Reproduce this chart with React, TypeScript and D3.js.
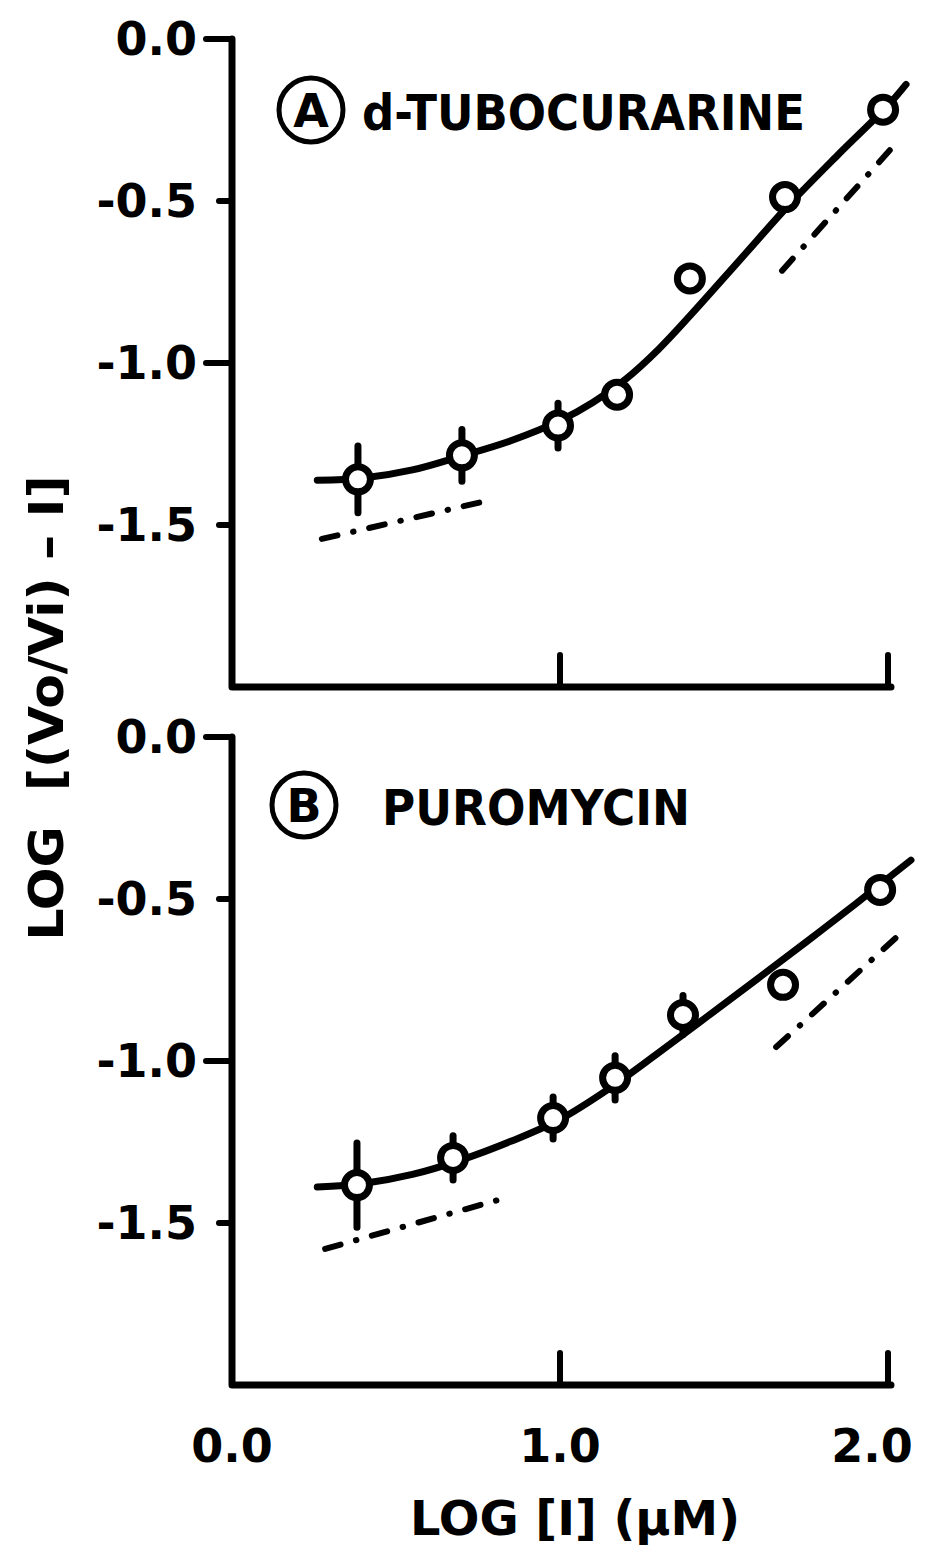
import React from 'react';
import * as d3 from 'd3';

// ---- axis ticks ----
const xTickValues = [0, 1, 2];
const xTickLabels = ['0.0', '1.0', '2.0'];
const yTickValues = [0, -0.5, -1.0, -1.5];
const yTickLabels = ['0.0', '-0.5', '-1.0', '-1.5'];

// ---- Panel A: d-TUBOCURARINE ----
const aLogI = [0.384, 0.701, 0.994, 1.174, 1.396, 1.686, 1.985];
const aLogRatio = [-1.359, -1.285, -1.193, -1.098, -0.739, -0.488, -0.218];
const aErr = [0.103, 0.08, 0.069, 0, 0, 0, 0];
const aFitX = [0.26, 0.4, 0.55, 0.7, 0.85, 1.0, 1.1, 1.2, 1.3, 1.4, 1.55, 1.7, 1.85, 2.0, 2.055];
const aFitY = [-1.362, -1.355, -1.33, -1.287, -1.24, -1.178, -1.122, -1.05, -0.958, -0.85, -0.68, -0.51, -0.355, -0.205, -0.14];
const aLowX = [0.274, 0.787];
const aLowY = [-1.543, -1.423];
const aHighX = [1.677, 2.027];
const aHighY = [-0.715, -0.319];

// ---- Panel B: PUROMYCIN ----
const bLogI = [0.381, 0.674, 0.979, 1.168, 1.375, 1.68, 1.976];
const bLogRatio = [-1.383, -1.299, -1.176, -1.052, -0.858, -0.765, -0.472];
const bErr = [0.13, 0.068, 0.065, 0.068, 0.06, 0, 0];
const bFitX = [0.26, 0.4, 0.55, 0.7, 0.85, 1.0, 1.15, 1.3, 1.45, 1.6, 1.75, 1.9, 2.07];
const bFitY = [-1.389, -1.378, -1.35, -1.305, -1.248, -1.18, -1.085, -0.975, -0.862, -0.748, -0.633, -0.516, -0.38];
const bLowX = [0.284, 0.811];
const bLowY = [-1.58, -1.429];
const bHighX = [1.659, 2.027];
const bHighY = [-0.957, -0.617];

const FONT = "'DejaVu Sans', sans-serif";

type PanelDef = {
  letter: string;
  name: string;
  top: number;
  bottom: number;
  cx: number;
  cy: number;
  nameX: number;
  nameLen: number;
  xs: number[];
  ys: number[];
  err: number[];
  fitX: number[];
  fitY: number[];
  lowX: number[];
  lowY: number[];
  highX: number[];
  highY: number[];
  showXLabels: boolean;
};

const panels: PanelDef[] = [
  {
    letter: 'A', name: 'd-TUBOCURARINE', top: 39, bottom: 687, cx: 311, cy: 110, nameX: 362, nameLen: 443,
    xs: aLogI, ys: aLogRatio, err: aErr, fitX: aFitX, fitY: aFitY,
    lowX: aLowX, lowY: aLowY, highX: aHighX, highY: aHighY, showXLabels: false,
  },
  {
    letter: 'B', name: 'PUROMYCIN', top: 737, bottom: 1385, cx: 304, cy: 805, nameX: 382, nameLen: 308,
    xs: bLogI, ys: bLogRatio, err: bErr, fitX: bFitX, fitY: bFitY,
    lowX: bLowX, lowY: bLowY, highX: bHighX, highY: bHighY, showXLabels: true,
  },
];

export default function App() {
  const W = 926;
  const H = 1552;
  const x = d3.scaleLinear().domain([0, 2]).range([232, 888]);
  const SW = 6;

  return (
    <svg width={W} height={H} style={{ position: 'absolute', left: 0, top: 0, background: '#fff' }}>
      <rect x={0} y={0} width={W} height={H} fill="#fff" />
      {panels.map((p) => {
        const y = d3.scaleLinear().domain([-2, 0]).range([p.bottom, p.top]);
        const line = d3
          .line<number>()
          .x((_, i) => x(p.fitX[i]))
          .y((d) => y(d))
          .curve(d3.curveCatmullRom.alpha(0.5));
        const seg = (xs: number[], ys: number[]) =>
          d3.line<number>().x((_, i) => x(xs[i])).y((d) => y(d))(ys) || '';
        const x0 = x(0);
        const x2 = x(2);
        return (
          <g key={p.letter}>
            {/* axes */}
            <path
              d={`M${x0},${y(0)} L${x0},${p.bottom} L${x2 + 3},${p.bottom}`}
              fill="none"
              stroke="#000"
              strokeWidth={SW + 1}
              strokeLinejoin="round"
              strokeLinecap="round"
            />
            {yTickValues.map((v, i) => {
              const major = Math.abs(v % 1) < 1e-9;
              const len = major ? 26 : 13;
              return (
                <g key={'yt' + i}>
                  <line x1={x0 - len} x2={x0} y1={y(v)} y2={y(v)} stroke="#000" strokeWidth={SW} strokeLinecap="round" />
                  <text
                    x={197}
                    y={y(v) + 16}
                    textAnchor="end"
                    fontFamily={FONT}
                    fontWeight="bold"
                    fontSize={46}
                  >
                    {yTickLabels[i]}
                  </text>
                </g>
              );
            })}
            {xTickValues.filter((v) => v > 0).map((v, i) => (
              <line key={'xt' + i} x1={x(v)} x2={x(v)} y1={p.bottom} y2={p.bottom - 32} stroke="#000" strokeWidth={SW} strokeLinecap="round" />
            ))}
            {p.showXLabels &&
              xTickValues.map((v, i) => (
                <text
                  key={'xl' + i}
                  x={Math.min(x(v), 872)}
                  y={p.bottom + 77}
                  textAnchor="middle"
                  fontFamily={FONT}
                  fontWeight="bold"
                  fontSize={46}
                >
                  {xTickLabels[i]}
                </text>
              ))}

            {/* panel label */}
            <circle cx={p.cx} cy={p.cy} r={32} fill="none" stroke="#000" strokeWidth={5} />
            <text x={p.cx} y={p.cy + 17} textAnchor="middle" fontFamily={FONT} fontWeight="bold" fontSize={46}>
              {p.letter}
            </text>
            <text
              x={p.nameX}
              y={p.cy + 20}
              fontFamily={FONT}
              fontWeight="bold"
              fontSize={50}
              textLength={p.nameLen}
              lengthAdjust="spacingAndGlyphs"
            >
              {p.name}
            </text>

            {/* dash-dot reference lines */}
            {[seg(p.lowX, p.lowY), seg(p.highX, p.highY)].map((d, i) => (
              <path
                key={'dd' + i}
                d={d}
                fill="none"
                stroke="#000"
                strokeWidth={6}
                strokeLinecap="round"
                strokeDasharray="16 16 0.5 16"
              />
            ))}

            {/* error bars */}
            {p.xs.map((xv, i) =>
              p.err[i] > 0 ? (
                <line
                  key={'eb' + i}
                  x1={x(xv)}
                  x2={x(xv)}
                  y1={y(p.ys[i] + p.err[i])}
                  y2={y(p.ys[i] - p.err[i])}
                  stroke="#000"
                  strokeWidth={7}
                  strokeLinecap="round"
                />
              ) : null
            )}

            {/* fitted curve */}
            <path d={line(p.fitY) || ''} fill="none" stroke="#000" strokeWidth={7} strokeLinecap="round" />

            {/* data points */}
            {p.xs.map((xv, i) => (
              <circle key={'pt' + i} cx={x(xv)} cy={y(p.ys[i])} r={12.5} fill="#fff" stroke="#000" strokeWidth={7} />
            ))}
          </g>
        );
      })}

      {/* axis titles */}
      <text
        x={575}
        y={1535}
        textAnchor="middle"
        fontFamily={FONT}
        fontWeight="bold"
        fontSize={48}
        textLength={330}
        lengthAdjust="spacingAndGlyphs"
      >
        LOG [I] (µM)
      </text>
      <text
        transform="translate(63,708) rotate(-90)"
        textAnchor="middle"
        fontFamily={FONT}
        fontWeight="bold"
        fontSize={48}
        textLength={465}
        lengthAdjust="spacingAndGlyphs"
        xmlSpace="preserve"
      >
        {'LOG  [(Vo/Vi) – I]'}
      </text>
    </svg>
  );
}
